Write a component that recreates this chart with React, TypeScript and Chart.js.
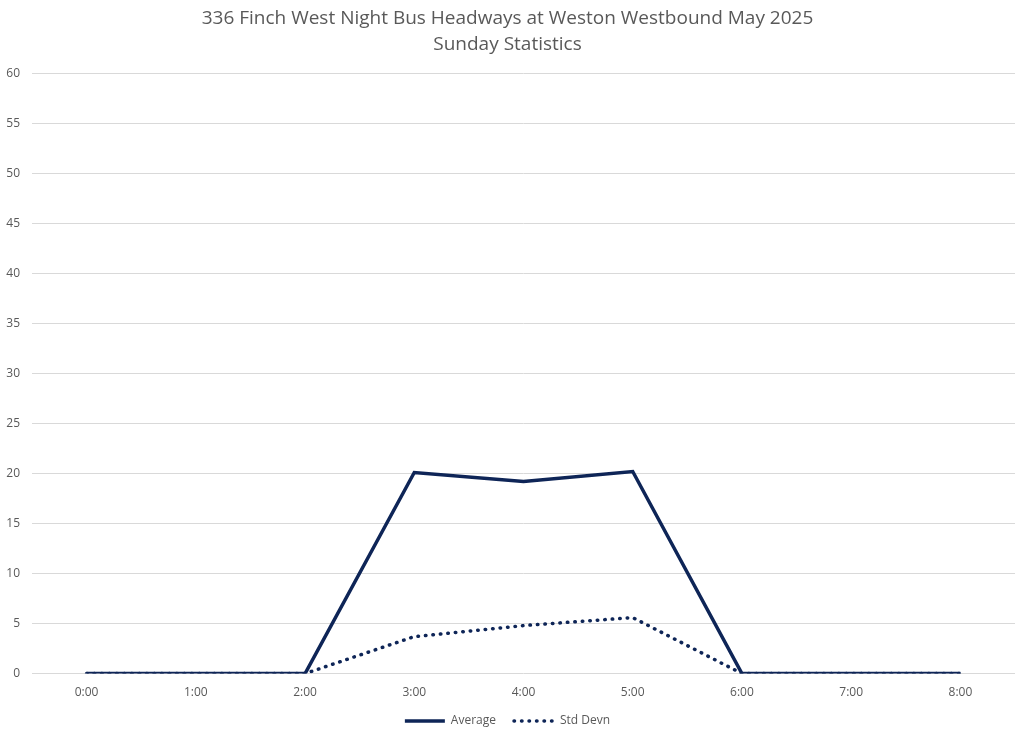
import React, { useEffect, useRef } from "react";
import { Chart, registerables } from "chart.js";

Chart.register(...registerables);

const hours = ["0:00", "1:00", "2:00", "3:00", "4:00", "5:00", "6:00", "7:00", "8:00"];
const averageValues = [0, 0, 0, 20.1, 19.2, 20.2, 0, 0, 0];
const stdDevnValues = [0, 0, 0, 3.7, 4.8, 5.6, 0, 0, 0];
const yTicks = [0, 5, 10, 15, 20, 25, 30, 35, 40, 45, 50, 55, 60];
const titleLines = ["336 Finch West Night Bus Headways at Weston Westbound May 2025", "Sunday Statistics"];

const NAVY = "#0E2557";
const FONT = "'Open Sans', 'Liberation Sans', sans-serif";
const DOTS = [0.5, 7];

export default function App() {
  const ref = useRef<HTMLCanvasElement | null>(null);
  useEffect(() => {
    document.body.style.margin = "0";
    const canvas = ref.current!;
    const chart = new Chart(canvas, {
      type: "line",
      data: {
        labels: hours,
        datasets: [
          {
            label: "Average",
            data: averageValues,
            borderColor: NAVY,
            backgroundColor: NAVY,
            borderWidth: 3.5,
            pointRadius: 0,
            tension: 0,
            order: 1,
          },
          {
            label: "Std Devn",
            data: stdDevnValues,
            borderColor: NAVY,
            backgroundColor: NAVY,
            borderWidth: 3.5,
            borderDash: DOTS,
            borderCapStyle: "round",
            pointRadius: 0,
            tension: 0,
            order: 2,
          },
        ],
      },
      options: {
        animation: false,
        responsive: false,
        maintainAspectRatio: false,
        layout: { padding: { left: 0, right: 9, top: 4, bottom: -3 } },
        plugins: {
          title: {
            display: true,
            text: titleLines,
            color: "#595959",
            font: { family: FONT, size: 19, weight: "normal", lineHeight: 1.35 },
            padding: { top: 2, bottom: 16 },
          },
          legend: {
            position: "bottom",
            labels: {
              color: "#595959",
              font: { family: FONT, size: 12 },
              usePointStyle: true,
              pointStyle: "line",
              pointStyleWidth: 40,
              boxHeight: 12,
              padding: 18,
              generateLabels: (c) => {
                const items = Chart.defaults.plugins.legend.labels.generateLabels(c);
                return items.map((it) => ({
                  ...it,
                  pointStyle: "line",
                  lineWidth: 3.5,
                  lineCap: (it.datasetIndex === 1 ? "round" : "butt") as CanvasLineCap,
                  lineDash: it.datasetIndex === 1 ? DOTS : [],
                }));
              },
            },
          },
          tooltip: { enabled: false },
        },
        scales: {
          x: {
            offset: true,
            afterFit: (s: any) => { s.height -= 7; },
            grid: { display: false },
            border: { display: false },
            ticks: { color: "#595959", font: { family: FONT, size: 12 }, padding: 4 },
          },
          y: {
            min: 0,
            max: 60,
            afterFit: (s: any) => { s.width = 32; },
            afterBuildTicks: (s: any) => { s.ticks = yTicks.map((v) => ({ value: v })); },
            grid: { color: "#D9D9D9", lineWidth: 1, drawTicks: false },
            border: { display: false },
            ticks: { color: "#595959", font: { family: FONT, size: 12 }, padding: 12 },
          },
        },
      },
    });
    return () => chart.destroy();
  }, []);
  return <canvas ref={ref} width={1024} height={734} style={{ display: "block", width: 1024, height: 734 }} />;
}
